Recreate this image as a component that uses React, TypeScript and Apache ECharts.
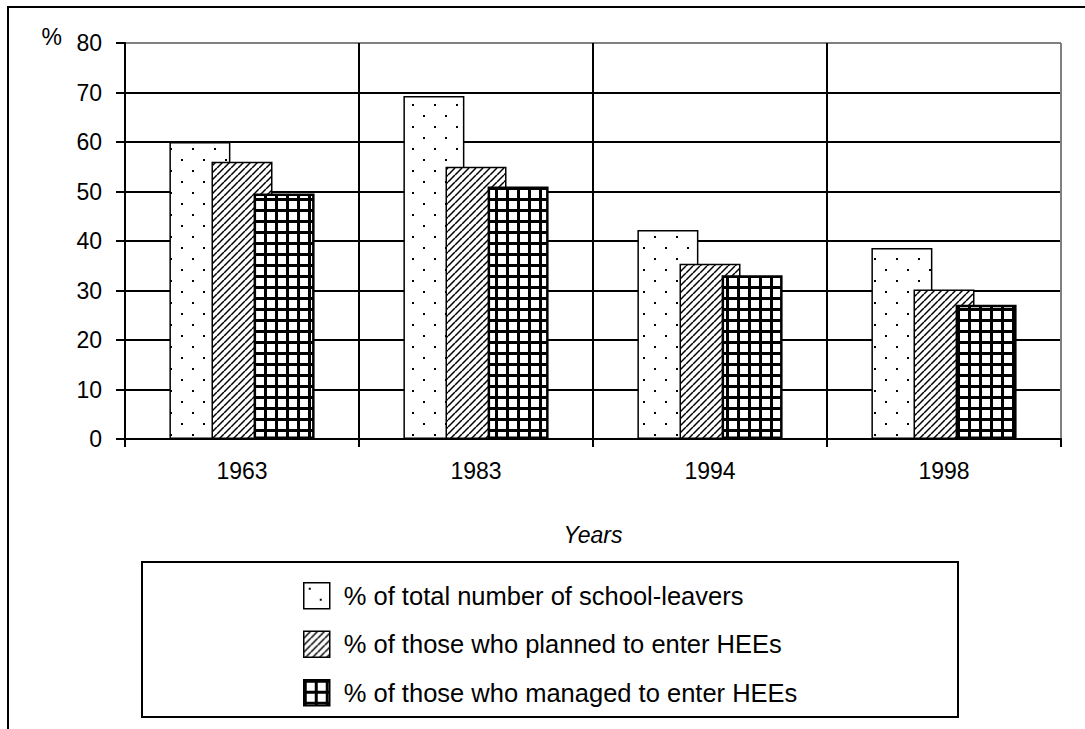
import React, { useEffect, useRef } from "react";
import * as echarts from "echarts";

const years = ["1963", "1983", "1994", "1998"];
const totalLeavers = [60, 69.3, 42.2, 38.6];
const plannedHEE = [56, 55, 35.4, 30.2];
const managedHEE = [49.6, 51, 33.1, 27.1];
const seriesNames = [
  "% of total number of school-leavers",
  "% of those who planned to enter HEEs",
  "% of those who managed to enter HEEs",
];

const FONT = "'Liberation Sans', Arial, sans-serif";

function makeDots() {
  const c = document.createElement("canvas");
  c.width = 22; c.height = 22;
  const g = c.getContext("2d")!;
  g.fillStyle = "#fff"; g.fillRect(0, 0, 22, 22);
  g.fillStyle = "#000";
  g.fillRect(5, 5, 2, 2);
  g.fillRect(16, 16, 2, 2);
  return c;
}
function makeHatch() {
  const s = 7;
  const c = document.createElement("canvas");
  c.width = s; c.height = s;
  const g = c.getContext("2d")!;
  g.fillStyle = "#fff"; g.fillRect(0, 0, s, s);
  g.strokeStyle = "#000"; g.lineWidth = 1.5;
  for (const k of [-s, 0, s]) {
    g.beginPath(); g.moveTo(k, s); g.lineTo(k + s, 0); g.stroke();
  }
  return c;
}
function makeGrid() {
  const s = 11;
  const c = document.createElement("canvas");
  c.width = s; c.height = s;
  const g = c.getContext("2d")!;
  g.fillStyle = "#fff"; g.fillRect(0, 0, s, s);
  g.fillStyle = "#000";
  g.fillRect(0, 0, 3, s);
  g.fillRect(0, 0, s, 3);
  return c;
}

export default function App() {
  const ref = useRef<HTMLDivElement>(null);
  useEffect(() => {
    if (!ref.current) return;
    const chart = echarts.init(ref.current, null, { renderer: "svg" });
    const pat = (img: HTMLCanvasElement) => ({
      image: img, repeat: "repeat", imageWidth: img.width, imageHeight: img.height,
    });
    const yColors = ["#000", "#000", "#000", "#000", "#000", "#000", "#000", "#000", "#808080"];
    const xColors = ["#000", "#000", "#000", "#000", "#808080"];
    chart.setOption({
      animation: false,
      backgroundColor: "#fff",
      grid: { left: 125, right: 24, top: 43, bottom: 290 },
      xAxis: {
        type: "category",
        data: years,
        name: "Years",
        nameLocation: "middle",
        nameGap: 84,
        nameTextStyle: { fontFamily: FONT, fontSize: 23, fontStyle: "italic", color: "#000" },
        axisLine: { lineStyle: { color: "#000", width: 2 } },
        axisTick: { show: true, length: 8, lineStyle: { color: "#000", width: 2 } },
        axisLabel: { fontFamily: FONT, fontSize: 23, color: "#000", margin: 20 },
        splitLine: { show: true, interval: 0, lineStyle: { color: xColors, width: 2 } },
      },
      yAxis: {
        type: "value",
        min: 0,
        max: 80,
        interval: 10,
        name: "%",
        nameLocation: "end",
        nameGap: 6,
        nameTextStyle: {
          fontFamily: FONT, fontSize: 23, color: "#000",
          align: "right", verticalAlign: "middle", padding: [0, 63, 0, 0],
        },
        axisLine: { show: true, lineStyle: { color: "#000", width: 2 } },
        axisTick: { show: true, length: 9, lineStyle: { color: "#000", width: 2 } },
        axisLabel: { fontFamily: FONT, fontSize: 23, color: "#000", margin: 23 },
        splitLine: { show: true, lineStyle: { color: yColors, width: 2 } },
      },
      legend: {
        orient: "vertical",
        left: 303,
        top: 582,
        padding: 0,
        itemWidth: 26,
        itemHeight: 26,
        itemGap: 21,
        icon: "rect",
        itemStyle: { borderColor: "#000", borderWidth: 1.5 },
        textStyle: { fontFamily: FONT, fontSize: 25.5, color: "#000", padding: [0, 0, 0, 9] },
        data: seriesNames,
      },
      graphic: [
        {
          type: "rect",
          shape: { x: 8, y: 7, width: 1120, height: 800 },
          style: { fill: "none", stroke: "#000", lineWidth: 2 },
          silent: true,
          z: -10,
        },
        {
          type: "rect",
          shape: { x: 142, y: 562, width: 816, height: 155 },
          style: { fill: "none", stroke: "#000", lineWidth: 2 },
          silent: true,
        },
      ],
      series: [
        {
          name: seriesNames[0], type: "bar", data: totalLeavers,
          barWidth: 61, barGap: "-31%",
          itemStyle: { color: pat(makeDots()), borderColor: "#000", borderWidth: 1.5 },
        },
        {
          name: seriesNames[1], type: "bar", data: plannedHEE,
          barWidth: 61, barGap: "-31%",
          itemStyle: { color: pat(makeHatch()), borderColor: "#000", borderWidth: 1.5 },
        },
        {
          name: seriesNames[2], type: "bar", data: managedHEE,
          barWidth: 61, barGap: "-31%",
          itemStyle: { color: pat(makeGrid()), borderColor: "#000", borderWidth: 2.5 },
        },
      ],
    });
    return () => chart.dispose();
  }, []);
  return (
    <div
      ref={ref}
      style={{ position: "absolute", left: 0, top: 0, width: 1085, height: 729 }}
    />
  );
}
